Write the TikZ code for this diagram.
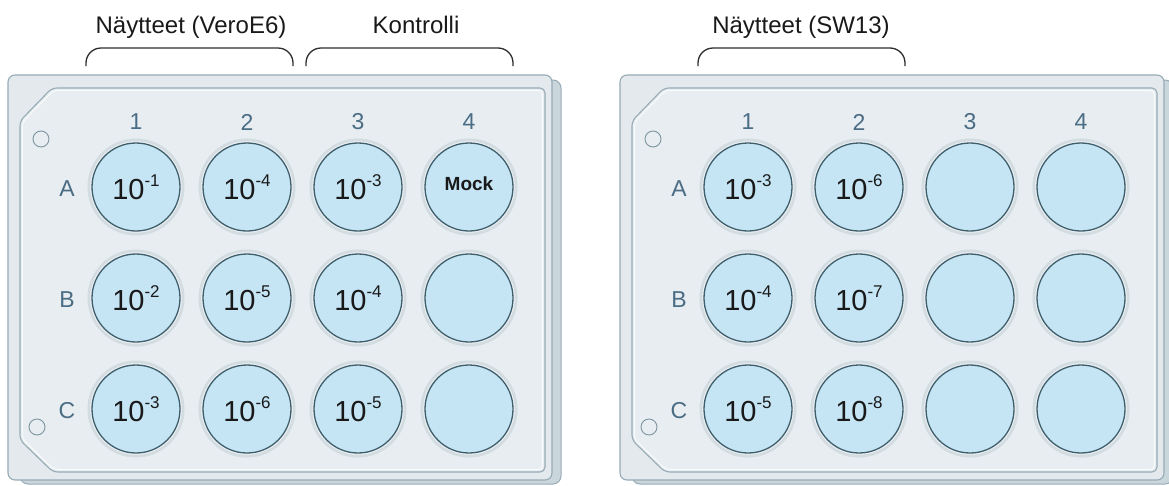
\documentclass[tikz,border=0pt]{standalone}
\usepackage{fontspec}
\setmainfont{Liberation Sans}

\definecolor{platefill}{HTML}{E3E9EC}
\definecolor{innerfill}{HTML}{E7EDF0}
\definecolor{plateedge}{HTML}{97ABB5}
\definecolor{sidefill}{HTML}{C9D6DC}
\definecolor{wellfill}{HTML}{C5E4F4}
\definecolor{wellshine}{HTML}{D9EFFA}
\definecolor{wellrim}{HTML}{3F5E6B}
\definecolor{wellhalo}{HTML}{D2DCE1}
\definecolor{labelcol}{HTML}{4A6C84}
\definecolor{bracketcol}{HTML}{2E2E2E}
\definecolor{holecol}{HTML}{7E95A1}

% dilution factor 10^{-n}
\newcommand\dilu[1]{10\raisebox{13pt}{\fontsize{17}{17}\selectfont -#1}}

\tikzset{
  platebody/.pic={
    % side of the plate
    \draw[plateedge, fill=sidefill, line width=1pt, rounded corners=8pt]
      (20,80) rectangle (561,484);
    % plate top face
    \draw[plateedge, fill=platefill, line width=1.1pt, rounded corners=7pt]
      (8,75) rectangle (552,480);
    % raised inner area with the chamfered corners
    \draw[plateedge, fill=innerfill, line width=1.1pt, rounded corners=5pt]
      (52,88) -- (545,88) -- (545,472) -- (53,472) -- (20,440) -- (20,121) -- cycle;
    \draw[white, opacity=0.8, line width=0.9pt, rounded corners=4pt]
      (53.5,90.5) -- (542.5,90.5) -- (542.5,469.5) -- (54,469.5) -- (22.5,439) -- (22.5,122) -- cycle;
    % corner holes
    \draw[holecol, line width=0.9pt] (41,139) circle (8);
    \draw[holecol, line width=0.9pt] (37,427) circle (8);
  },
  well/.style={circle, minimum size=88pt, inner sep=0pt, fill=wellfill,
    draw=wellrim, line width=1.3pt,
    preaction={draw=wellhalo, line width=9pt},
    preaction={draw=white!55!wellhalo, line width=3.5pt},
    append after command={
      \pgfextra{\draw[wellshine, line width=3pt, line cap=round]
        ([shift={(105:40.5pt)}]\tikzlastnode.center) arc[start angle=105, end angle=235, radius=40.5pt];}
    }},
  welltext/.style={font=\fontsize{29}{29}\selectfont, text=black!90, inner sep=0pt},
  mocktext/.style={font=\fontsize{19}{19}\selectfont\bfseries, text=black!90, inner sep=0pt},
  axislabel/.style={font=\fontsize{23}{23}\selectfont, text=labelcol, inner sep=0pt},
  title/.style={font=\fontsize{24}{24}\selectfont, text=black!90, inner sep=0pt, anchor=base},
  bracket/.style={draw=bracketcol, line width=1.3pt, rounded corners=15pt},
}

\begin{document}
\begin{tikzpicture}[x=1pt, y=-1pt]
\useasboundingbox (0,0) rectangle (1169,485);

% two plates
\pic at (0,0) {platebody};
\pic at (612,0) {platebody};

% wells, column and row labels
\foreach \px/\pl in {0/L, 612/R}{
  \foreach \cx [count=\ci] in {136,247,358,469}{
    \node[axislabel] (\pl col\ci) at (\px+\cx,122) {\ci};
    \foreach \ry/\rl in {187/A, 298/B, 409/C}{
      \node[well] (\pl\rl\ci) at (\px+\cx,\ry) {};
    }
  }
  \foreach \ry/\rl in {189/A, 300/B, 411/C}{
    \node[axislabel] (\pl row\rl) at (\px+67,\ry) {\rl};
  }
}

% well contents, left plate
\node[welltext] (tLA1) at (LA1) {\dilu{1}};
\node[welltext] (tLA2) at (LA2) {\dilu{4}};
\node[welltext] (tLA3) at (LA3) {\dilu{3}};
\node[mocktext] (tLA4) at ([yshift=3pt]LA4.center) {Mock};
\node[welltext] (tLB1) at (LB1) {\dilu{2}};
\node[welltext] (tLB2) at (LB2) {\dilu{5}};
\node[welltext] (tLB3) at (LB3) {\dilu{4}};
\node[welltext] (tLC1) at (LC1) {\dilu{3}};
\node[welltext] (tLC2) at (LC2) {\dilu{6}};
\node[welltext] (tLC3) at (LC3) {\dilu{5}};

% well contents, right plate
\node[welltext] (tRA1) at (RA1) {\dilu{3}};
\node[welltext] (tRA2) at (RA2) {\dilu{6}};
\node[welltext] (tRB1) at (RB1) {\dilu{4}};
\node[welltext] (tRB2) at (RB2) {\dilu{7}};
\node[welltext] (tRC1) at (RC1) {\dilu{5}};
\node[welltext] (tRC2) at (RC2) {\dilu{8}};

% group titles and brackets
\node[title] (ttl1) at (191,33) {Näytteet (VeroE6)};
\node[title] (ttl2) at (416,33) {Kontrolli};
\node[title] (ttl3) at (801,33) {Näytteet (SW13)};

\draw[bracket] (86,66) -- (86,48) -- (293,48) -- (293,66);
\draw[bracket] (306,66) -- (306,48) -- (513,48) -- (513,66);
\draw[bracket] (698,66) -- (698,48) -- (905,48) -- (905,66);
\end{tikzpicture}
\end{document}
